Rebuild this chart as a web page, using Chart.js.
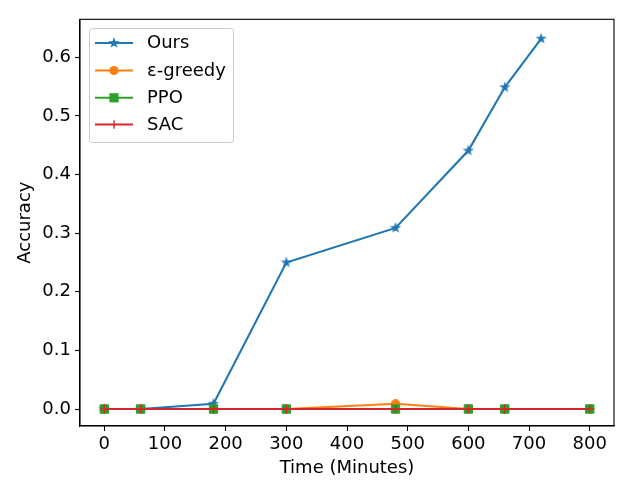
<!DOCTYPE html>
<html>
<head>
<meta charset="utf-8">
<script src="https://cdn.jsdelivr.net/npm/chart.js@4"></script>
<style>
  html, body { margin: 0; padding: 0; background: #fff; }
  #wrap { width: 640px; height: 480px; }
</style>
</head>
<body>
<div id="wrap"><canvas id="accChart" width="640" height="480"></canvas></div>
<script>
// data
const oursTime = [0, 60, 180, 300, 480, 600, 660, 720];
const oursAcc = [0, 0, 0.009, 0.25, 0.309, 0.441, 0.549, 0.632];
const baseTime = [0, 60, 180, 300, 480, 600, 660, 800];
const greedyAcc = [0, 0, 0, 0, 0.009, 0, 0, 0];
const ppoAcc = [0, 0, 0, 0, 0, 0, 0, 0];
const sacAcc = [0, 0, 0, 0, 0, 0, 0, 0];
const xTicks = [0, 100, 200, 300, 400, 500, 600, 700, 800];
const yTicks = [0, 0.1, 0.2, 0.3, 0.4, 0.5, 0.6];
const seriesNames = ['Ours', 'ε-greedy', 'PPO', 'SAC'];
const seriesColors = ['#1f77b4', '#ff7f0e', '#2ca02c', '#d62728'];

const FONT = 'DejaVu Sans';
const FS = 18;

// matplotlib-like filled star marker
function makeStar(color) {
    const c = document.createElement('canvas');
    c.width = 14; c.height = 14;
    const g = c.getContext('2d');
    const R = 3.9, r = R * 0.382;
    g.beginPath();
    for (let i = 0; i < 10; i++) {
        const rad = i % 2 === 0 ? R : r;
        const a = -Math.PI / 2 + i * Math.PI / 5;
        const px = 7 + rad * Math.cos(a), py = 7 + rad * Math.sin(a);
        if (i === 0) g.moveTo(px, py); else g.lineTo(px, py);
    }
    g.closePath();
    g.fillStyle = color;
    g.fill();
    g.lineWidth = 1.3;
    g.strokeStyle = color;
    g.stroke();
    return c;
}
const starImg = makeStar(seriesColors[0]);

const toPts = (xs, ys) => xs.map((x, i) => ({ x: x, y: ys[i] }));

const markerStyles = [
    { pointStyle: starImg, pointRadius: 5 },
    { pointStyle: 'circle', pointRadius: 4.2 },
    { pointStyle: 'rect', pointRadius: 5.9 },
    { pointStyle: 'cross', pointRadius: 4.2 }
];

const seriesData = [
    toPts(oursTime, oursAcc),
    toPts(baseTime, greedyAcc),
    toPts(baseTime, ppoAcc),
    toPts(baseTime, sacAcc)
];

const datasets = seriesNames.map((name, i) => ({
    label: name,
    data: seriesData[i],
    borderColor: seriesColors[i],
    backgroundColor: seriesColors[i],
    pointBackgroundColor: seriesColors[i],
    pointBorderColor: seriesColors[i],
    borderWidth: 2.1,
    pointBorderWidth: i === 3 ? 1.4 : 1,
    pointStyle: markerStyles[i].pointStyle,
    pointRadius: markerStyles[i].pointRadius,
    tension: 0,
    fill: false,
    order: 4 - i
}));

// frame + matplotlib style legend
const framePlugin = {
    id: 'frameLegend',
    afterDraw(chart) {
        const ctx = chart.ctx;
        const a = chart.chartArea;
        ctx.save();
        ctx.strokeStyle = '#000';
        ctx.lineWidth = 1.1;
        ctx.strokeRect(a.left, a.top, a.right - a.left, a.bottom - a.top);

        // legend box
        const bx = 89.5, by = 28.5, bw = 144, bh = 114, rr = 3;
        ctx.beginPath();
        ctx.moveTo(bx + rr, by);
        ctx.arcTo(bx + bw, by, bx + bw, by + bh, rr);
        ctx.arcTo(bx + bw, by + bh, bx, by + bh, rr);
        ctx.arcTo(bx, by + bh, bx, by, rr);
        ctx.arcTo(bx, by, bx + bw, by, rr);
        ctx.closePath();
        ctx.fillStyle = 'rgba(255,255,255,0.8)';
        ctx.fill();
        ctx.strokeStyle = '#cccccc';
        ctx.lineWidth = 1;
        ctx.stroke();

        const rowY = [43, 70.5, 97.8, 124.5];
        const x0 = 95, x1 = 133, mx = 114;
        seriesNames.forEach((name, i) => {
            const y = rowY[i];
            const col = seriesColors[i];
            ctx.strokeStyle = col;
            ctx.fillStyle = col;
            ctx.lineWidth = 2.1;
            ctx.beginPath();
            ctx.moveTo(x0, y);
            ctx.lineTo(x1, y);
            ctx.stroke();
            if (i === 0) {
                ctx.drawImage(starImg, mx - 7, y - 7);
            } else if (i === 1) {
                ctx.beginPath();
                ctx.arc(mx, y, 4.6, 0, Math.PI * 2);
                ctx.fill();
            } else if (i === 2) {
                ctx.fillRect(mx - 4.6, y - 4.6, 9.2, 9.2);
            } else {
                ctx.lineWidth = 1.4;
                ctx.beginPath();
                ctx.moveTo(mx, y - 4.2); ctx.lineTo(mx, y + 4.2);
                ctx.stroke();
            }
            ctx.fillStyle = '#000';
            ctx.font = FS + 'px "' + FONT + '"';
            ctx.textBaseline = 'middle';
            ctx.textAlign = 'left';
            ctx.fillText(name, 147, y + 0.5);
        });
        ctx.restore();
    }
};

Chart.defaults.font.family = FONT;
Chart.defaults.color = '#000';

const ctx = document.getElementById('accChart').getContext('2d');
const accChart = new Chart(ctx, {
    type: 'line',
    data: { datasets: datasets },
    options: {
        responsive: false,
        animation: false,
        devicePixelRatio: 1,
        layout: { padding: { top: 19.3, right: 26, left: 0, bottom: 0 } },
        plugins: {
            legend: { display: false },
            tooltip: { enabled: false }
        },
        scales: {
            x: {
                type: 'linear',
                min: -40,
                max: 840,
                afterBuildTicks: (scale) => { scale.ticks = xTicks.map(v => ({ value: v })); },
                afterFit: (scale) => { scale.height = 54; },
                grid: { drawOnChartArea: false, drawTicks: true, tickLength: 5, tickColor: '#000', tickWidth: 1.1 },
                border: { color: '#000', width: 1.1 },
                ticks: { font: { size: FS }, padding: 3, maxRotation: 0, autoSkip: false, callback: (v) => String(v) },
                title: { display: true, text: 'Time (Minutes)', font: { size: FS }, padding: { top: 1, bottom: 1 } }
            },
            y: {
                type: 'linear',
                min: -0.029,
                max: 0.665,
                afterBuildTicks: (scale) => { scale.ticks = yTicks.map(v => ({ value: v })); },
                afterFit: (scale) => { scale.width = 80; },
                grid: { drawOnChartArea: false, drawTicks: true, tickLength: 5, tickColor: '#000', tickWidth: 1.1 },
                border: { color: '#000', width: 1.1 },
                ticks: { font: { size: FS }, padding: 4, autoSkip: false, callback: (v) => v.toFixed(1) },
                title: { display: true, text: 'Accuracy', font: { size: FS }, padding: { top: 14.5, bottom: 0 } }
            }
        }
    },
    plugins: [framePlugin]
});
</script>
</body>
</html>
